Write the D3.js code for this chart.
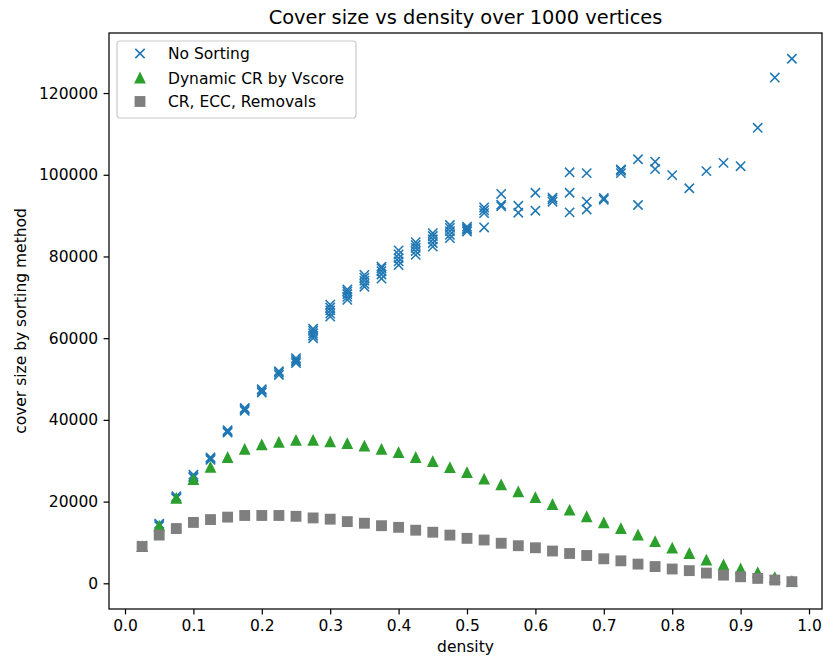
<!DOCTYPE html>
<html>
<head>
<meta charset="utf-8">
<script src="https://cdn.jsdelivr.net/npm/d3@7"></script>
<style>
  html, body { margin: 0; padding: 0; background: #fff; }
  svg text { font-family: "DejaVu Sans", sans-serif; fill: #000; }
</style>
</head>
<body>
<svg id="chart" width="823" height="661"></svg>
<script>
// ---------------- data ----------------
const density = [0.025,0.05,0.075,0.1,0.125,0.15,0.175,0.2,0.225,0.25,0.275,0.3,0.325,0.35,0.375,0.4,0.425,0.45,0.475,0.5,
  0.525,0.55,0.575,0.6,0.625,0.65,0.675,0.7,0.725,0.75,0.775,0.8,0.825,0.85,0.875,0.9,0.925,0.95,0.975];

// No Sorting: several runs per density
const noSorting = [
  [9000, 9200],
  [14000, 14300, 14600],
  [20800, 21000, 21300],
  [25900, 26200, 26600],
  [30200, 30500, 30800],
  [36900, 37200, 37500],
  [42200, 42600, 42900],
  [46700, 47100, 47500],
  [51000, 51500, 51900],
  [53900, 54300, 54700, 55100],
  [60000, 60600, 61200, 61800, 62300],
  [65300, 66000, 66800, 67500, 68200],
  [69400, 70100, 70800, 71400, 71900],
  [72600, 73300, 74100, 74800, 75500],
  [74600, 75600, 76400, 77100, 77500],
  [77900, 78800, 79600, 80500, 81500],
  [80400, 81300, 82100, 82800, 83500],
  [82400, 83300, 84200, 85000, 85700],
  [84500, 85300, 86200, 87000, 87700],
  [86100, 86500, 86900, 87300],
  [87100, 90600, 91300, 92000],
  [92300, 92700, 95300],
  [90700, 92400],
  [91200, 95600],
  [93400, 94000, 94400],
  [90800, 95600, 100600],
  [91500, 93400, 100400],
  [93900, 94300],
  [100400, 101000, 101300],
  [92600, 103800],
  [101400, 103200],
  [99900],
  [96700],
  [100900],
  [102900],
  [102100],
  [111500],
  [123800],
  [128400]
];

const dynamicCR = [9000,14000,20800,25400,28400,30800,32800,33900,34500,35000,35000,34600,34200,33600,32800,32000,30800,29800,28300,27100,
  25500,24100,22400,21000,19300,17900,16300,14800,13400,11800,10200,8600,7300,5700,4500,3500,2600,1400,500];

const crEccRemovals = [9000,11800,13400,14900,15600,16200,16600,16600,16600,16400,16000,15700,15100,14700,14100,13700,13000,12500,11800,11000,
  10600,9800,9200,8700,7900,7300,6800,6000,5500,4700,4100,3500,3100,2500,2000,1600,1200,800,400];

const seriesNames = ["No Sorting", "Dynamic CR by Vscore", "CR, ECC, Removals"];
const seriesColors = ["#1f77b4", "#2ca02c", "#7f7f7f"];
const xTicks = [0,0.1,0.2,0.3,0.4,0.5,0.6,0.7,0.8,0.9,1.0];
const yTicks = [0,20000,40000,60000,80000,100000,120000];
const titleText = "Cover size vs density over 1000 vertices";
const xLabel = "density";
const yLabel = "cover size by sorting method";

// ---------------- layout ----------------
const L = 109, R = 822, T = 33, B = 609;
const S = 1.55; // px per pt
const fontSize = 15.5;

const svg = d3.select("#chart");
const x = d3.scaleLinear().domain([-0.0234, 1.019]).range([L, R]);
const y = d3.scaleLinear().domain([-6290, 134700]).range([B, T]);

// axes
const xAxis = d3.axisBottom(x).tickValues(xTicks).tickFormat(d3.format(".1f"))
  .tickSizeInner(3.5 * S).tickSizeOuter(0).tickPadding(3.5 * S);
const yAxis = d3.axisLeft(y).tickValues(yTicks).tickFormat(d3.format("d"))
  .tickSizeInner(3.5 * S).tickSizeOuter(0).tickPadding(3.5 * S);

const gx = svg.append("g").attr("transform", `translate(0,${B})`).call(xAxis);
const gy = svg.append("g").attr("transform", `translate(${L},0)`).call(yAxis);
[gx, gy].forEach(g => {
  g.select(".domain").remove();
  g.selectAll(".tick line").attr("stroke", "#000").attr("stroke-width", 0.8 * S);
  g.selectAll(".tick text").attr("font-size", fontSize).attr("font-family", "DejaVu Sans").attr("fill", "#000");
});

// markers
const h = 3 * S; // half of markersize 6pt
const ew = 1 * S;

const gPts = svg.append("g");
// No Sorting (x markers)
const blueData = [];
density.forEach((d, i) => noSorting[i].forEach(v => blueData.push([d, v])));
gPts.append("g").selectAll("path").data(blueData).join("path")
  .attr("d", `M${-h},${-h}L${h},${h}M${-h},${h}L${h},${-h}`)
  .attr("transform", d => `translate(${x(d[0])},${y(d[1])})`)
  .attr("fill", "none").attr("stroke", seriesColors[0]).attr("stroke-width", ew);

// Dynamic CR (triangles)
const triPath = `M0,${-h}L${-h},${h}L${h},${h}Z`;
gPts.append("g").selectAll("path").data(density.map((d, i) => [d, dynamicCR[i]])).join("path")
  .attr("d", triPath)
  .attr("transform", d => `translate(${x(d[0])},${y(d[1])})`)
  .attr("fill", seriesColors[1]).attr("stroke", seriesColors[1]).attr("stroke-width", ew)
  .attr("stroke-linejoin", "miter");

// CR, ECC, Removals (squares)
gPts.append("g").selectAll("rect").data(density.map((d, i) => [d, crEccRemovals[i]])).join("rect")
  .attr("x", d => x(d[0]) - h).attr("y", d => y(d[1]) - h)
  .attr("width", 2 * h).attr("height", 2 * h)
  .attr("fill", seriesColors[2]).attr("stroke", seriesColors[2]).attr("stroke-width", ew);

// spines
svg.append("rect").attr("x", L).attr("y", T).attr("width", R - L).attr("height", B - T)
  .attr("fill", "none").attr("stroke", "#000").attr("stroke-width", 0.8 * S);

// title and labels
svg.append("text").attr("x", (L + R) / 2).attr("y", 23.5).attr("text-anchor", "middle")
  .attr("font-size", 19.4).text(titleText);
svg.append("text").attr("x", (L + R) / 2).attr("y", 652).attr("text-anchor", "middle")
  .attr("font-size", fontSize).text(xLabel);
svg.append("text").attr("transform", `translate(25.5,${(T + B) / 2}) rotate(-90)`).attr("text-anchor", "middle")
  .attr("font-size", fontSize).text(yLabel);

// legend
const lg = svg.append("g");
lg.append("rect").attr("x", 117).attr("y", 41).attr("width", 239).attr("height", 77)
  .attr("rx", 3).attr("fill", "#fff").attr("fill-opacity", 0.8)
  .attr("stroke", "#cccccc").attr("stroke-width", 0.8 * S);
const rowY = [53.5, 78, 101.5];
const mx = 140;
lg.append("path").attr("d", `M${mx - h},${rowY[0] - h}L${mx + h},${rowY[0] + h}M${mx - h},${rowY[0] + h}L${mx + h},${rowY[0] - h}`)
  .attr("stroke", seriesColors[0]).attr("stroke-width", ew).attr("fill", "none");
lg.append("path").attr("d", triPath).attr("transform", `translate(${mx},${rowY[1]})`)
  .attr("fill", seriesColors[1]).attr("stroke", seriesColors[1]).attr("stroke-width", ew);
lg.append("rect").attr("x", mx - h).attr("y", rowY[2] - h).attr("width", 2 * h).attr("height", 2 * h)
  .attr("fill", seriesColors[2]).attr("stroke", seriesColors[2]).attr("stroke-width", ew);
seriesNames.forEach((n, i) => {
  lg.append("text").attr("x", 168).attr("y", rowY[i]).attr("dy", "0.36em")
    .attr("font-size", fontSize).text(n);
});
</script>
</body>
</html>
